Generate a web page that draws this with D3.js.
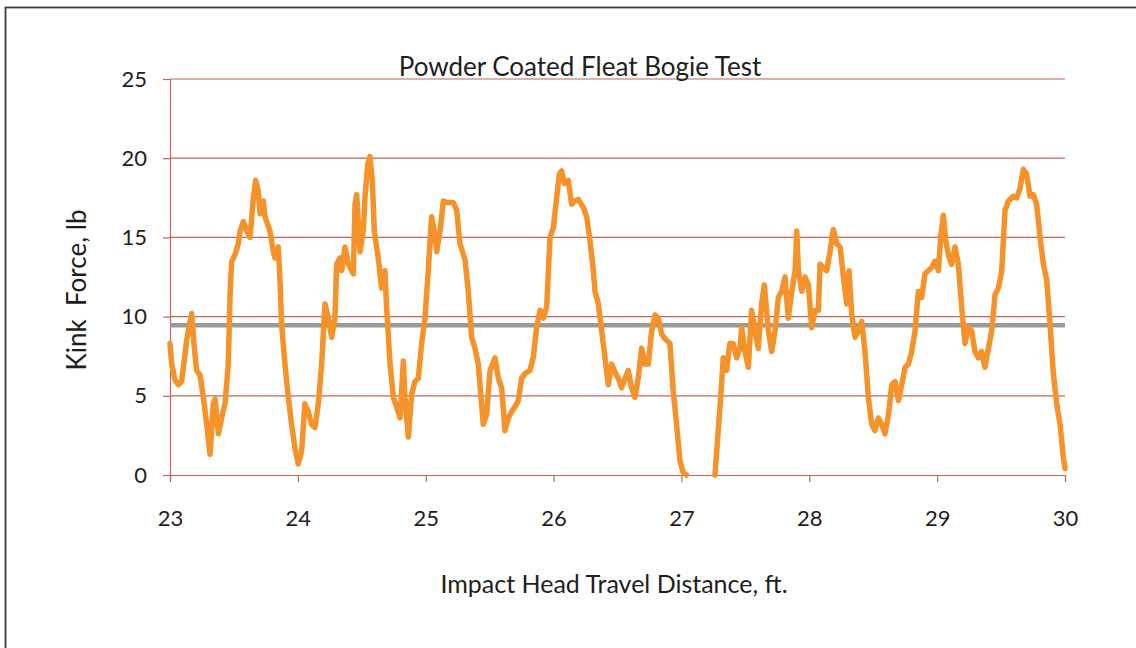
<!DOCTYPE html>
<html>
<head>
<meta charset="utf-8">
<script src="https://cdn.jsdelivr.net/npm/d3@7"></script>
<style>
  html, body { margin: 0; padding: 0; background: #fff; overflow: hidden; }
  svg { display: block; font-family: Lato, "Open Sans", sans-serif; }
</style>
</head>
<body>
<svg id="chart" width="1136" height="648"></svg>
<script>
const chartTitle = "Powder Coated Fleat Bogie Test";
const xAxisTitle = "Impact Head Travel Distance, ft.";
const yAxisTitle = "Kink  Force, lb";
const xTicks = [23, 24, 25, 26, 27, 28, 29, 30];
const yTicks = [0, 5, 10, 15, 20, 25];
const referenceLevel = 9.45;

const distance = [
  23.000, 23.013, 23.039, 23.065, 23.091, 23.130, 23.169, 23.190, 23.208, 23.235,
  23.261, 23.287, 23.313, 23.339, 23.352, 23.378, 23.404, 23.430, 23.456, 23.469,
  23.482, 23.508, 23.534, 23.548, 23.574, 23.600, 23.626, 23.652, 23.670, 23.691,
  23.704, 23.730, 23.743, 23.782, 23.808, 23.821, 23.847, 23.860, 23.873, 23.899,
  23.925, 23.951, 23.977, 24.003, 24.029, 24.055, 24.081, 24.107, 24.134,
  24.160, 24.186, 24.212, 24.238, 24.264, 24.290, 24.303, 24.330, 24.343, 24.369,
  24.395, 24.421, 24.434, 24.447, 24.460, 24.486, 24.512, 24.525, 24.546, 24.564,
  24.582, 24.598, 24.629, 24.655, 24.681, 24.694, 24.721, 24.747, 24.773, 24.799,
  24.825, 24.838, 24.864, 24.890, 24.916, 24.942, 24.968, 24.994, 25.020, 25.046,
  25.067, 25.086, 25.112, 25.138, 25.164, 25.190, 25.216, 25.242, 25.268, 25.307,
  25.333, 25.359, 25.385, 25.411, 25.437, 25.450, 25.476, 25.503, 25.542, 25.568,
  25.594, 25.620, 25.646, 25.672, 25.698, 25.724, 25.750, 25.776, 25.815, 25.841,
  25.867, 25.894, 25.920, 25.946, 25.972, 25.998, 26.024, 26.045, 26.063, 26.084,
  26.115, 26.141, 26.167, 26.193, 26.232, 26.259, 26.285, 26.311, 26.324, 26.350,
  26.376, 26.402, 26.428, 26.454, 26.480,
  26.506, 26.532, 26.558, 26.584, 26.610, 26.636, 26.662, 26.689, 26.715, 26.741,
  26.767, 26.793, 26.819, 26.845, 26.871, 26.910, 26.936, 26.962, 26.988, 27.014,
  27.040, 27.150, 27.262, 27.288, 27.314, 27.327, 27.353, 27.379, 27.405, 27.432,
  27.458, 27.471, 27.497, 27.523, 27.549, 27.575, 27.601, 27.627, 27.648,
  27.680, 27.706, 27.732, 27.758, 27.784, 27.810, 27.836, 27.863, 27.889, 27.902,
  27.915, 27.941, 27.967, 27.993, 28.019, 28.045, 28.071, 28.084, 28.110, 28.136,
  28.162, 28.188, 28.214, 28.241, 28.267, 28.293, 28.311, 28.332, 28.358, 28.384,
  28.410, 28.436, 28.462, 28.488, 28.514, 28.540, 28.566, 28.592, 28.619, 28.645,
  28.671, 28.697, 28.723, 28.749, 28.775, 28.801, 28.827,
  28.853, 28.879, 28.905, 28.931, 28.957, 28.983, 29.009, 29.030, 29.049, 29.067,
  29.088, 29.114, 29.140, 29.166, 29.192, 29.218, 29.244, 29.270, 29.296, 29.322,
  29.348, 29.374, 29.401, 29.427, 29.453, 29.479, 29.505, 29.531, 29.557, 29.596,
  29.622, 29.648, 29.674, 29.700, 29.726, 29.752, 29.778, 29.805, 29.831, 29.857,
  29.883, 29.909, 29.935, 29.961, 29.987, 30.000
];

const kinkForce = [
  8.3, 7.0, 6.0, 5.7, 5.9, 8.5, 10.2, 8.0, 6.6, 6.3,
  4.9, 3.2, 1.3, 4.5, 4.8, 2.6, 3.6, 4.5, 7.0, 11.2,
  13.5, 13.9, 14.6, 15.4, 16.0, 15.4, 15.0, 17.5, 18.6, 17.9,
  16.5, 17.3, 16.3, 15.4, 14.1, 13.7, 14.4, 12.3, 9.5, 7.0,
  4.9, 3.2, 1.7, 0.7, 1.5, 4.5, 4.0, 3.2, 3.0,
  4.5, 7.0, 10.8, 9.9, 8.7, 9.9, 13.3, 13.7, 12.9, 14.4,
  13.3, 12.9, 12.7, 17.1, 17.7, 14.1, 15.4, 17.5, 19.6, 20.1,
  18.6, 15.4, 13.7, 11.8, 12.9, 10.6, 7.0, 4.9, 4.3, 3.6,
  7.2, 4.9, 2.4, 5.1, 5.9, 6.1, 8.3, 9.9, 12.9, 16.3,
  15.4, 14.1, 15.4, 17.3, 17.2, 17.2, 17.2, 16.7, 14.6, 13.6,
  11.6, 8.7, 8.0, 7.0, 4.5, 3.2, 3.8, 6.6, 7.4, 6.1,
  5.5, 2.8, 3.6, 4.0, 4.3, 4.7, 6.1, 6.4, 6.6, 7.4,
  9.3, 10.4, 9.9, 10.6, 15.0, 15.6, 17.5, 19.0, 19.2, 18.4,
  18.6, 17.1, 17.3, 17.4, 16.9, 16.3, 14.8, 12.9, 11.6, 10.8,
  9.1, 7.4, 5.7, 7.0, 6.5,
  6.1, 5.5, 6.1, 6.6, 5.5, 4.9, 6.1, 8.0, 7.0, 7.0,
  9.1, 10.1, 9.9, 8.9, 8.6, 8.3, 5.3, 3.2, 0.9, 0.15,
  0, null, 0, 2.8, 5.7, 7.4, 6.6, 8.3, 8.3, 7.4,
  8.0, 9.3, 7.8, 6.8, 10.4, 9.1, 8.0, 10.8, 12.0,
  9.1, 7.8, 9.1, 11.2, 11.6, 12.5, 9.9, 11.6, 12.9, 15.4,
  12.9, 11.6, 12.5, 12.0, 9.3, 10.4, 10.4, 13.3, 13.1, 12.9,
  14.1, 15.5, 14.6, 14.4, 12.5, 10.8, 12.9, 10.1, 8.7, 9.1,
  9.7, 7.8, 4.9, 3.2, 2.8, 3.6, 3.2, 2.6, 3.8, 5.7,
  5.9, 4.7, 5.7, 6.8, 7.0, 7.8, 9.1,
  11.6, 11.2, 12.7, 12.9, 13.1, 13.5, 12.9, 15.2, 16.4, 14.8,
  13.9, 13.3, 14.4, 13.3, 10.6, 8.3, 9.3, 9.1, 7.8, 7.4,
  7.8, 6.8, 8.0, 9.1, 11.4, 11.8, 12.9, 16.7, 17.3, 17.6,
  17.5, 18.1, 19.3, 19.0, 17.6, 17.7, 17.1, 15.0, 13.3, 12.3,
  9.5, 6.4, 4.5, 3.2, 1.1, 0.4
];

const data = distance.map((d, i) => ({ x: d, y: kinkForce[i] }));

const svg = d3.select("#chart");
const plot = { left: 170, right: 1065, top: 79, bottom: 475 };

const x = d3.scaleLinear().domain([23, 30]).range([plot.left, plot.right]);
const y = d3.scaleLinear().domain([0, 25]).range([plot.bottom, plot.top]);

const gridColor = "#C0665C";
const textColor = "#1e1e1e";
const fontFamily = "Lato, 'Open Sans', sans-serif";

// outer frame (only top and left edges fall inside the picture)
svg.append("rect")
  .attr("x", 5.5).attr("y", 7.5)
  .attr("width", 1160).attr("height", 680)
  .attr("fill", "none").attr("stroke", "#3a3a3a").attr("stroke-width", 1.8);

// horizontal gridlines
svg.append("g")
  .selectAll("line")
  .data(yTicks.filter(t => t > 0))
  .join("line")
  .attr("x1", plot.left).attr("x2", plot.right)
  .attr("y1", d => y(d)).attr("y2", d => y(d))
  .attr("stroke", gridColor).attr("stroke-width", 1.2);

// y axis
const yAxis = svg.append("g")
  .attr("transform", `translate(${plot.left},0)`)
  .call(d3.axisLeft(y).tickValues(yTicks).tickSize(7).tickPadding(16).tickFormat(d3.format("d")));
yAxis.select(".domain").attr("stroke", gridColor).attr("stroke-width", 1.2);
yAxis.selectAll(".tick line").attr("stroke", gridColor).attr("stroke-width", 1.2);
yAxis.selectAll(".tick text").attr("font-size", 22).attr("fill", textColor)
  .attr("font-family", fontFamily);

// x axis
const xAxis = svg.append("g")
  .attr("transform", `translate(0,${plot.bottom})`)
  .call(d3.axisBottom(x).tickValues(xTicks).tickSize(7).tickPadding(28).tickFormat(d3.format("d")));
xAxis.select(".domain").attr("stroke", gridColor).attr("stroke-width", 1.2);
xAxis.selectAll(".tick line").attr("stroke", gridColor).attr("stroke-width", 1.2);
xAxis.selectAll(".tick text").attr("font-size", 22).attr("fill", textColor)
  .attr("font-family", fontFamily);

// reference line
svg.append("line")
  .attr("x1", x(23)).attr("x2", x(30))
  .attr("y1", y(referenceLevel)).attr("y2", y(referenceLevel))
  .attr("stroke", "#9a9a9a").attr("stroke-width", 4.5);

// data line
const line = d3.line()
  .defined(d => d.y !== null)
  .x(d => x(d.x)).y(d => y(d.y))
  .curve(d3.curveLinear);

svg.append("path")
  .datum(data)
  .attr("d", line)
  .attr("fill", "none")
  .attr("stroke", "#F5922A")
  .attr("stroke-width", 5.5)
  .attr("stroke-linejoin", "round")
  .attr("stroke-linecap", "round");

// title
svg.append("text")
  .attr("x", 580).attr("y", 76)
  .attr("text-anchor", "middle")
  .attr("font-size", 26).attr("fill", textColor)
  .text(chartTitle);

// axis titles
svg.append("text")
  .attr("x", 614).attr("y", 593)
  .attr("text-anchor", "middle")
  .attr("font-size", 25).attr("fill", textColor)
  .text(xAxisTitle);

svg.append("text")
  .attr("transform", `translate(86,290) rotate(-90)`)
  .attr("text-anchor", "middle")
  .attr("font-size", 26).attr("fill", textColor)
  .style("white-space", "pre")
  .text(yAxisTitle);
</script>
</body>
</html>
